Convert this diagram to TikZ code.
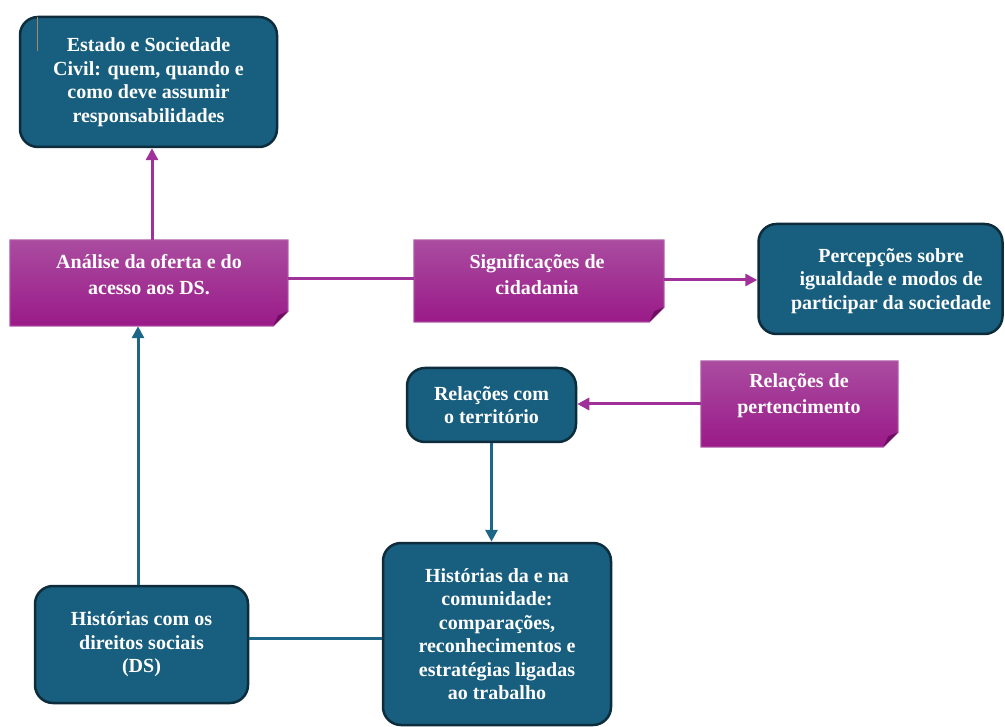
\documentclass[tikz,border=0pt]{standalone}
\usepackage{fontspec}
\setmainfont{Liberation Serif}
\usetikzlibrary{arrows.meta}
\definecolor{tealfill}{HTML}{185E7F}
\definecolor{tealedge}{HTML}{0E2D3C}
\definecolor{tealline}{HTML}{1C6688}
\definecolor{purtop}{HTML}{AA4CA0}
\definecolor{purbot}{HTML}{9A1A88}
\definecolor{puredge}{HTML}{B566AD}
\definecolor{purline}{HTML}{A0309A}
\definecolor{purfold}{HTML}{6E0E60}
\definecolor{markc}{HTML}{B08468}
\tikzset{
  tbox/.style={draw=tealedge, line width=2.5pt, fill=tealfill, rounded corners=18pt,
    text=white, font=\fontsize{20}{23.5}\selectfont\bfseries, align=center, inner sep=0pt},
  pbox/.style={draw=none, inner sep=0pt},
  ptext/.style={text=white, font=\fontsize{20}{26}\selectfont\bfseries, align=center, inner sep=0pt},
  tline/.style={draw=tealline, line width=3pt},
  tarr/.style={tline, -{Triangle[length=12pt,width=12pt]}},
  pline/.style={draw=purline, line width=3pt},
  parr/.style={pline, -{Triangle[length=12pt,width=12pt]}},
}
\newcommand{\purpleshape}[1]{%
  \path[top color=purtop, bottom color=purbot, draw=puredge, line width=1pt]
    (#1.north west) -- (#1.north east) -- ([yshift=15pt]#1.south east)
    -- ([xshift=-15pt]#1.south east) -- (#1.south west) -- cycle;
  \fill[purfold] ([yshift=15pt]#1.south east) -- ([xshift=-15pt]#1.south east)
    -- ([xshift=-10pt,yshift=11pt]#1.south east) -- cycle;
}
\begin{document}
\begin{tikzpicture}[x=1pt,y=-1pt]
\useasboundingbox (0,0) rectangle (1005,727);
\fill[white] (0,0) rectangle (1005,727);

% teal boxes
\node[tbox, minimum width=257pt, minimum height=130pt] (est) at (148.5,82)
  {Estado e Sociedade\\Civil: quem, quando e\\como deve assumir\\responsabilidades};
\node[tbox, minimum width=244pt, minimum height=110pt] (perc) at (880.5,279) {};
\node[text=white, font=\fontsize{20}{23.5}\selectfont\bfseries, align=center, inner sep=0pt] (perctext) at (891,281)
  {Percepções sobre\\igualdade e modos de\\participar da sociedade};
\node[tbox, minimum width=169pt, minimum height=74pt] (terr) at (491.5,405)
  {Relações com\\o território};
\node[tbox, minimum width=228pt, minimum height=182pt] (com) at (497,634)
  {Histórias da e na\\comunidade:\\comparações,\\reconhecimentos e\\estratégias ligadas\\ao trabalho};
\node[tbox, minimum width=213pt, minimum height=117pt] (dir) at (141.5,644.5)
  {Histórias com os\\direitos sociais\\(DS)};

% purple boxes
\node[pbox, minimum width=278pt, minimum height=86pt] (ana) at (149,283) {};
\purpleshape{ana}
\node[ptext] (anatext) at (149,275) {Análise da oferta e do\\acesso aos DS.};
\node[pbox, minimum width=250pt, minimum height=82pt] (sig) at (539,281) {};
\purpleshape{sig}
\node[ptext] (sigtext) at (537,274.5) {Significações de\\cidadania};
\node[pbox, minimum width=197pt, minimum height=86pt] (per) at (799.5,404) {};
\purpleshape{per}
\node[ptext] (pertext) at (799,396) {Relações de\\pertencimento};

% small mark
\draw[color=markc, line width=1pt] (37,17) -- (37,51);

% connectors
\draw[parr] ([xshift=3pt]ana.north) -- ([xshift=3pt]ana.north |- est.south);
\draw[pline] ([yshift=4pt]ana.east) -- ([yshift=2pt]sig.west);
\draw[parr] ([yshift=1pt]sig.east) -- ([yshift=1pt]sig.east -| perc.west);
\draw[parr] (per.west) -- (per.west -| terr.east);
\draw[tarr] (terr.south) -- (terr.south |- com.north);
\draw[tline] ([yshift=-4pt]com.west) -- ([yshift=-4pt]com.west -| dir.east);
\draw[tarr] ([xshift=-3.5pt]dir.north) -- ([xshift=-3.5pt]dir.north |- ana.south);
\end{tikzpicture}
\end{document}
